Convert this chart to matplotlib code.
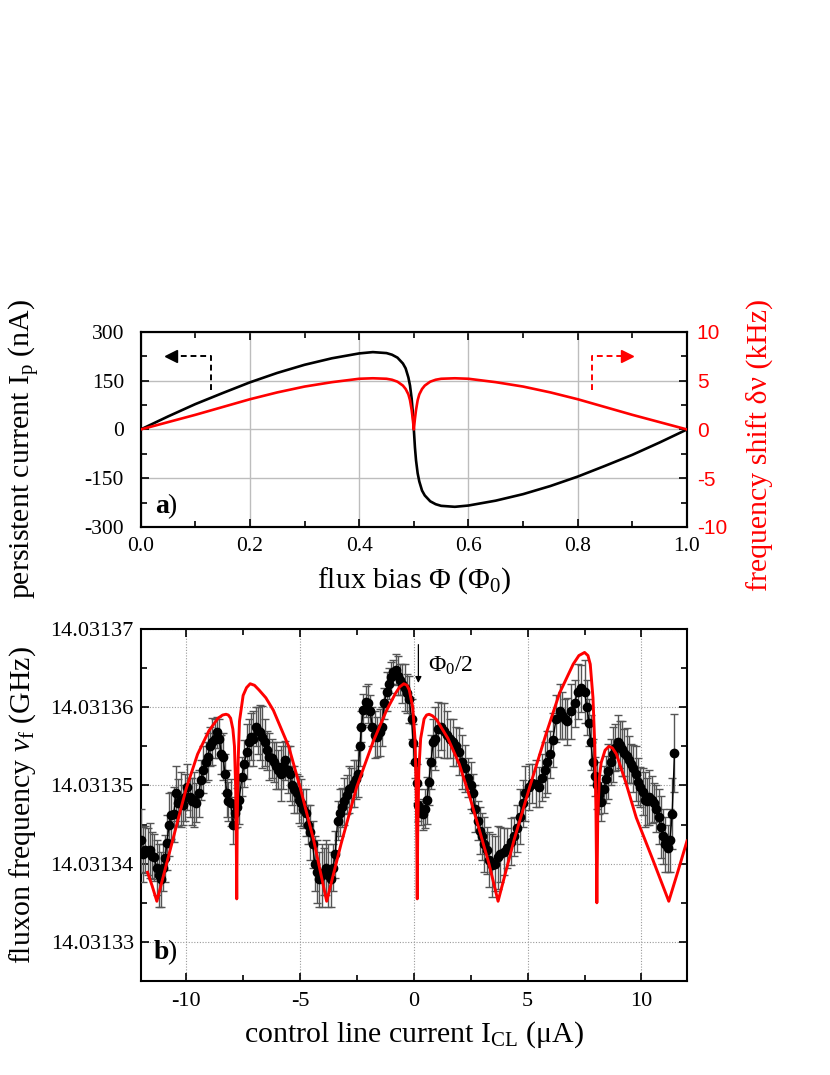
import matplotlib
matplotlib.use("Agg")
import matplotlib.pyplot as plt
from matplotlib.ticker import MultipleLocator, FormatStrFormatter

# ---------------- data: panel a ----------------
phi_flux = [0.0, 0.05, 0.10, 0.15, 0.20, 0.25, 0.30, 0.35, 0.40, 0.425, 0.45, 0.46, 0.47,
            0.48, 0.485, 0.49, 0.493, 0.496, 0.498, 0.50, 0.502, 0.504, 0.507, 0.51,
            0.515, 0.52, 0.53, 0.54, 0.55, 0.575, 0.60, 0.65, 0.70, 0.75, 0.80, 0.85,
            0.90, 0.95, 1.0]
persistent_current_nA = [0, 40, 78, 112, 145, 174, 199, 219, 234, 238, 235, 230, 221,
                         203, 188, 160, 135, 95, 55, 0, -55, -95, -135, -160,
                         -188, -203, -221, -230, -235, -238, -234, -219, -199, -174, -145, -112,
                         -78, -40, 0]
freq_shift_kHz = [0.0, 0.75, 1.5, 2.3, 3.1, 3.8, 4.4, 4.85, 5.2, 5.25, 5.2, 5.1, 4.9,
                  4.5, 4.15, 3.6, 3.0, 2.0, 1.1, 0.0, 1.1, 2.0, 3.0, 3.6,
                  4.15, 4.5, 4.9, 5.1, 5.2, 5.25, 5.2, 4.85, 4.4, 3.8, 3.1, 2.3,
                  1.5, 0.75, 0.0]

# ---------------- data: panel b ----------------
F_BASE_GHZ = 14.0313          # frequencies below are offsets in units of 1e-5 GHz
UNIT = 1e-5

i_cl_uA = [-11.98, -11.90, -11.80, -11.70, -11.60, -11.50, -11.40, -11.30, -11.20, -11.10,
           -11.00, -10.92, -10.85, -10.75, -10.65, -10.55, -10.45, -10.35, -10.25, -10.15,
           -10.05, -9.95, -9.85, -9.75, -9.65, -9.55, -9.45, -9.35, -9.25, -9.15,
           -9.05, -8.95, -8.85, -8.75, -8.66, -8.55, -8.45, -8.38, -8.30, -8.22,
           -8.15, -8.05, -7.95, -7.85, -7.75, -7.68, -7.55, -7.45, -7.35, -7.25,
           -7.15, -7.05, -6.95, -6.85, -6.75, -6.65, -6.55, -6.45, -6.35, -6.25,
           -6.15, -6.05, -5.95, -5.85, -5.75, -5.65, -5.55, -5.45, -5.35, -5.25,
           -5.15, -5.05, -4.95, -4.85, -4.75, -4.65, -4.55, -4.45, -4.35, -4.25,
           -4.15, -4.05, -3.95, -3.85, -3.75, -3.65, -3.55, -3.45, -3.35, -3.25,
           -3.15, -3.05, -2.95, -2.85, -2.75, -2.65, -2.55, -2.45, -2.37, -2.30,
           -2.22, -2.12, -2.02, -1.92, -1.82, -1.72, -1.62, -1.50, -1.40, -1.30,
           -1.20, -1.10, -1.00, -0.90, -0.80, -0.70, -0.60, -0.50, -0.40, -0.30,
           -0.20, -0.10, -0.03, 0.05, 0.12, 0.20, 0.30, 0.40, 0.50, 0.58,
           0.66, 0.75, 0.85, 0.95, 1.07, 1.20, 1.32, 1.45, 1.58, 1.70,
           1.85, 2.00, 2.12, 2.25, 2.38, 2.50, 2.60, 2.68, 2.80, 2.90,
           3.00, 3.10, 3.20, 3.30, 3.42, 3.55, 3.68, 3.80, 3.95, 4.10,
           4.25, 4.40, 4.55, 4.65, 4.78, 4.90, 5.05, 5.20, 5.35, 5.50,
           5.65, 5.75, 5.85, 6.00, 6.10, 6.25, 6.40, 6.50, 6.62, 6.75,
           6.90, 7.06, 7.20, 7.35, 7.50, 7.60, 7.70, 7.78, 7.86, 7.95,
           8.05, 8.15, 8.23, 8.35, 8.45, 8.55, 8.65, 8.75, 8.85, 8.95,
           9.05, 9.15, 9.25, 9.35, 9.45, 9.55, 9.65, 9.75, 9.85, 9.95,
           10.05, 10.15, 10.25, 10.35, 10.45, 10.55, 10.65, 10.75, 10.85, 10.95,
           11.05, 11.15, 11.25, 11.35, 11.45]
fluxon_offset = [4.30, 4.12, 4.18, 4.15, 4.17, 4.10, 4.08, 3.95, 3.85, 3.80,
                 3.95, 4.07, 4.27, 4.50, 4.62, 4.63, 4.90, 4.78, 4.82, 4.75,
                 4.85, 4.98, 4.85, 4.80, 4.82, 4.78, 4.90, 5.07, 5.20, 5.30,
                 5.37, 5.50, 5.56, 5.60, 5.68, 5.60, 5.40, 5.37, 5.15, 4.90,
                 4.80, 4.78, 4.50, 4.65, 4.72, 4.81, 5.11, 5.28, 5.43, 5.55,
                 5.62, 5.60, 5.75, 5.70, 5.68, 5.62, 5.55, 5.45, 5.37, 5.35,
                 5.30, 5.25, 5.20, 5.15, 5.25, 5.32, 5.20, 5.15, 5.00, 4.95,
                 4.90, 4.82, 4.78, 4.70, 4.65, 4.50, 4.40, 4.25, 4.00, 3.90,
                 3.80, 3.85, 3.90, 3.95, 3.85, 3.80, 3.95, 4.12, 4.55, 4.65,
                 4.72, 4.80, 4.88, 4.95, 4.97, 5.03, 5.08, 5.15, 5.50, 5.75,
                 5.97, 6.07, 6.05, 5.95, 5.75, 5.65, 5.62, 5.68, 5.75, 6.05,
                 6.20, 6.30, 6.38, 6.45, 6.48, 6.40, 6.35, 6.30, 6.25, 6.18,
                 6.10, 5.85, 5.54, 5.30, 5.03, 4.75, 4.65, 4.63, 4.70, 4.81,
                 5.05, 5.30, 5.55, 5.60, 5.72, 5.75, 5.70, 5.65, 5.60, 5.55,
                 5.50, 5.43, 5.30, 5.22, 5.10, 5.00, 4.90, 4.70, 4.55, 4.42,
                 4.35, 4.25, 4.17, 4.05, 3.98, 4.00, 4.08, 4.12, 4.15, 4.20,
                 4.28, 4.35, 4.45, 4.60, 4.77, 4.90, 4.98, 5.03, 5.02, 4.98,
                 5.10, 5.20, 5.30, 5.40, 5.58, 5.85, 5.95, 5.90, 5.85, 5.82,
                 5.95, 6.05, 6.20, 6.24, 6.20, 6.00, 5.80, 5.55, 5.30, 5.12,
                 5.00, 4.88, 4.79, 4.95, 5.08, 5.18, 5.30, 5.40, 5.48, 5.55,
                 5.52, 5.47, 5.42, 5.38, 5.33, 5.28, 5.22, 5.15, 5.05, 4.98,
                 4.92, 4.82, 4.80, 4.85, 4.82, 4.78, 4.70, 4.60, 4.47, 4.35,
                 4.25, 4.20, 4.30, 4.64, 5.41]
fluxon_err = [0.40, 0.35, 0.30, 0.30, 0.35, 0.30, 0.30, 0.35, 0.40, 0.35,
              0.30, 0.30, 0.35, 0.40, 0.30, 0.35, 0.35, 0.30, 0.35, 0.25,
              0.30, 0.30, 0.25, 0.30, 0.35, 0.25, 0.30, 0.25, 0.30, 0.25,
              0.30, 0.25, 0.30, 0.25, 0.20, 0.25, 0.25, 0.30, 0.25, 0.30,
              0.25, 0.30, 0.25, 0.20, 0.25, 0.30, 0.25, 0.30, 0.35, 0.30,
              0.30, 0.35, 0.25, 0.30, 0.35, 0.40, 0.30, 0.25, 0.30, 0.25,
              0.25, 0.30, 0.25, 0.35, 0.30, 0.25, 0.30, 0.35, 0.25, 0.30,
              0.25, 0.30, 0.30, 0.25, 0.30, 0.25, 0.35, 0.30, 0.35, 0.40,
              0.35, 0.40, 0.30, 0.35, 0.40, 0.35, 0.30, 0.30, 0.25, 0.30,
              0.25, 0.30, 0.25, 0.30, 0.25, 0.30, 0.25, 0.30, 0.25, 0.20,
              0.20, 0.20, 0.25, 0.20, 0.25, 0.30, 0.25, 0.30, 0.25, 0.20,
              0.25, 0.20, 0.20, 0.15, 0.20, 0.25, 0.20, 0.25, 0.30, 0.25,
              0.30, 0.25, 0.25, 0.20, 0.25, 0.20, 0.15, 0.20, 0.25, 0.30,
              0.30, 0.35, 0.30, 0.40, 0.35, 0.30, 0.35, 0.30, 0.25, 0.30,
              0.25, 0.30, 0.35, 0.30, 0.25, 0.30, 0.25, 0.30, 0.25, 0.30,
              0.30, 0.35, 0.30, 0.35, 0.40, 0.35, 0.40, 0.35, 0.30, 0.25,
              0.30, 0.25, 0.30, 0.35, 0.30, 0.35, 0.30, 0.25, 0.30, 0.25,
              0.30, 0.35, 0.40, 0.30, 0.35, 0.30, 0.35, 0.30, 0.25, 0.30,
              0.35, 0.30, 0.35, 0.30, 0.40, 0.35, 0.30, 0.35, 0.30, 0.25,
              0.30, 0.25, 0.25, 0.30, 0.30, 0.35, 0.30, 0.35, 0.30, 0.35,
              0.30, 0.35, 0.30, 0.35, 0.30, 0.25, 0.30, 0.35, 0.30, 0.25,
              0.30, 0.35, 0.30, 0.35, 0.30, 0.25, 0.30, 0.35, 0.40, 0.35,
              0.35, 0.30, 0.40, 0.45, 0.50]

fit_i_uA = [-11.70, -11.50, -11.29, -10.80, -10.30, -10.00, -9.50, -9.00, -8.60, -8.40, -8.25,
            -8.15, -8.05, -7.95, -7.88, -7.83, -7.80, -7.78,
            -7.76, -7.72, -7.66, -7.50, -7.35, -7.19, -7.00, -6.80, -6.50, -6.17, -5.50,
            -5.00, -4.40, -3.83,
            -3.20, -2.51, -1.80, -1.20, -0.80, -0.62, -0.44, -0.30, -0.20, -0.05, 0.05,
            0.10, 0.13, 0.15,
            0.17, 0.22, 0.30, 0.45, 0.56, 0.67, 0.82, 1.00, 1.50, 2.00, 2.46, 2.89,
            3.30, 3.70,
            4.40, 5.09, 5.80, 6.40, 7.00, 7.25, 7.50, 7.65, 7.75, 7.87, 7.95, 8.00, 8.04,
            8.08, 8.15, 8.23, 8.40, 8.57, 8.72, 8.90, 9.30, 9.77, 10.50, 11.20, 11.60, 12.00]
fit_offset = [3.89, 3.72, 3.52, 4.07, 4.63, 4.96, 5.40, 5.70, 5.86, 5.90, 5.91,
              5.90, 5.86, 5.72, 5.50, 5.00, 4.30, 3.55,
              4.50, 5.30, 5.82, 6.15, 6.25, 6.30, 6.28, 6.22, 6.12, 5.96, 5.50,
              4.98, 4.30, 3.52,
              4.25, 4.98, 5.55, 5.96, 6.18, 6.26, 6.30, 6.28, 6.22, 6.00, 5.60,
              5.00, 4.30, 3.55,
              4.40, 5.20, 5.60, 5.85, 5.90, 5.91, 5.89, 5.84, 5.60, 5.27, 4.85, 4.42,
              4.00, 3.52,
              4.30, 4.98, 5.65, 6.18, 6.55, 6.66, 6.70, 6.66, 6.55, 6.12, 5.50, 4.70, 3.50,
              4.60, 5.10, 5.29, 5.45, 5.50, 5.48, 5.40, 5.05, 4.59, 4.05, 3.52, 3.90, 4.29]

y_ticks_b = [14.03133, 14.03134, 14.03135, 14.03136, 14.03137]

# ---------------- style ----------------
plt.rcParams['font.family'] = ['Liberation Serif', 'DejaVu Serif']
plt.rcParams['mathtext.fontset'] = 'custom'
plt.rcParams['mathtext.rm'] = 'Liberation Serif'
plt.rcParams['mathtext.it'] = 'Liberation Serif:italic'
plt.rcParams['mathtext.bf'] = 'Liberation Serif:bold'
plt.rcParams['axes.unicode_minus'] = False
plt.rcParams['axes.linewidth'] = 1.5

RED = '#ff0000'
TICK_FS = 15.5
LABEL_FS = 21.5

fig = plt.figure(figsize=(8.3, 10.75), dpi=100)

# ================= panel a =================
ax1 = fig.add_axes([0.1695, 0.5098, 0.6582, 0.1814])
ax2 = ax1.twinx()

ax1.plot(phi_flux, persistent_current_nA, color='black', lw=1.9, zorder=3)
ax2.plot(phi_flux, freq_shift_kHz, color=RED, lw=1.9, zorder=3)

ax1.set_xlim(0, 1)
ax1.set_ylim(-300, 300)
ax2.set_ylim(-10, 10)
ax1.xaxis.set_major_locator(MultipleLocator(0.2))
ax1.xaxis.set_minor_locator(MultipleLocator(0.1))
ax1.xaxis.set_major_formatter(FormatStrFormatter('%.1f'))
ax1.yaxis.set_major_locator(MultipleLocator(150))
ax1.yaxis.set_minor_locator(MultipleLocator(75))
ax2.yaxis.set_major_locator(MultipleLocator(5))
ax2.yaxis.set_minor_locator(MultipleLocator(2.5))

ax1.grid(True, which='major', color='#bdbdbd', lw=1.0, zorder=0)
ax1.set_axisbelow(True)

ax1.tick_params(which='both', direction='in', top=True, right=False, width=1.2,
                labelsize=TICK_FS)
ax1.tick_params(which='major', length=6)
ax1.tick_params(which='minor', length=4)
ax1.tick_params(axis='y', pad=12)
ax1.tick_params(axis='x', pad=7)
ax2.tick_params(which='both', direction='in', right=True, width=1.2,
                labelsize=TICK_FS - 0.5, labelcolor=RED, pad=7,
                labelfontfamily='Liberation Sans')
ax2.tick_params(which='major', length=6)
ax2.tick_params(which='minor', length=4)

ax1.set_xlabel(r'flux bias $\mathrm{\Phi}$ ($\mathrm{\Phi_0}$)', fontsize=LABEL_FS, labelpad=7)
ax1.set_ylabel(r'persistent current $\mathrm{I_p}$ (nA)', fontsize=LABEL_FS)
ax1.yaxis.set_label_coords(-0.181, 0.40)
ax2.set_ylabel('frequency shift δν (kHz)', fontsize=LABEL_FS, color=RED)
ax2.yaxis.set_label_coords(1.108, 0.42)

# direction arrows
ax1.plot([0.129, 0.129, 0.060], [121, 226, 226], color='black', lw=1.4,
         dashes=(3, 2), zorder=4)
ax1.plot([0.056], [226], marker='<', ms=8, color='black', mec='black', zorder=4)
ax1.plot([0.826, 0.826, 0.885], [121, 226, 226], color=RED, lw=1.4,
         dashes=(3, 2), zorder=4)
ax1.plot([0.890], [226], marker='>', ms=8, color=RED, mec=RED, zorder=4)

ax1.text(0.027, -257, 'a', fontsize=20, fontweight='bold', va='baseline', ha='left')
ax1.text(0.049, -257, ')', fontsize=20, va='baseline', ha='left')

# ================= panel b =================
ax3 = fig.add_axes([0.1695, 0.0874, 0.6582, 0.3275])

freq_ghz = [F_BASE_GHZ + v * UNIT for v in fluxon_offset]
err_ghz = [e * UNIT for e in fluxon_err]
fit_ghz = [F_BASE_GHZ + v * UNIT for v in fit_offset]

ax3.errorbar(i_cl_uA, freq_ghz, yerr=err_ghz, fmt='o', ms=6, color='black',
             mfc='black', mec='black', ecolor='#555555', elinewidth=1.0,
             capsize=3, capthick=1.0, zorder=3, linestyle='-', lw=1.0)
ax3.plot(fit_i_uA, fit_ghz, color=RED, lw=2.1, zorder=4)

ax3.set_xlim(-12, 12)
ax3.set_ylim(14.031325, 14.03137)
ax3.xaxis.set_major_locator(MultipleLocator(5))
ax3.xaxis.set_minor_locator(MultipleLocator(2.5))
ax3.set_yticks(y_ticks_b)
ax3.yaxis.set_minor_locator(MultipleLocator(0.5e-5))
ax3.yaxis.set_major_formatter(FormatStrFormatter('%.5f'))

ax3.grid(True, which='major', color='#9a9a9a', lw=0.8, linestyle=(0, (1, 1.5)), zorder=0)
ax3.set_axisbelow(True)
ax3.tick_params(which='both', direction='in', top=True, right=True, width=1.2,
                labelsize=TICK_FS + 0.5)
ax3.tick_params(which='major', length=6)
ax3.tick_params(which='minor', length=4)
ax3.tick_params(axis='y', pad=5)
ax3.tick_params(axis='x', pad=8)

ax3.set_xlabel(r'control line current $\mathrm{I_{CL}}$ (μA)', fontsize=LABEL_FS, labelpad=6)
ax3.set_ylabel(r'fluxon frequency $\nu_{\mathrm{f}}$ (GHz)', fontsize=LABEL_FS)
ax3.yaxis.set_label_coords(-0.188, 0.5)

ax3.annotate('', xy=(0.2, F_BASE_GHZ + 6.31 * UNIT), xytext=(0.2, F_BASE_GHZ + 6.80 * UNIT),
             arrowprops=dict(arrowstyle='-|>', color='black', lw=0.9, mutation_scale=9,
                             shrinkA=0, shrinkB=0))
ax3.text(0.62, F_BASE_GHZ + 6.45 * UNIT, r'$\mathrm{\Phi_0}$/2', fontsize=17,
         va='baseline', ha='left')

ax3.text(-11.43, F_BASE_GHZ + 2.78 * UNIT, 'b', fontsize=20, fontweight='bold',
         va='baseline', ha='left')
ax3.text(-10.85, F_BASE_GHZ + 2.78 * UNIT, ')', fontsize=20, va='baseline', ha='left')

fig.savefig('out.png', dpi=100)
